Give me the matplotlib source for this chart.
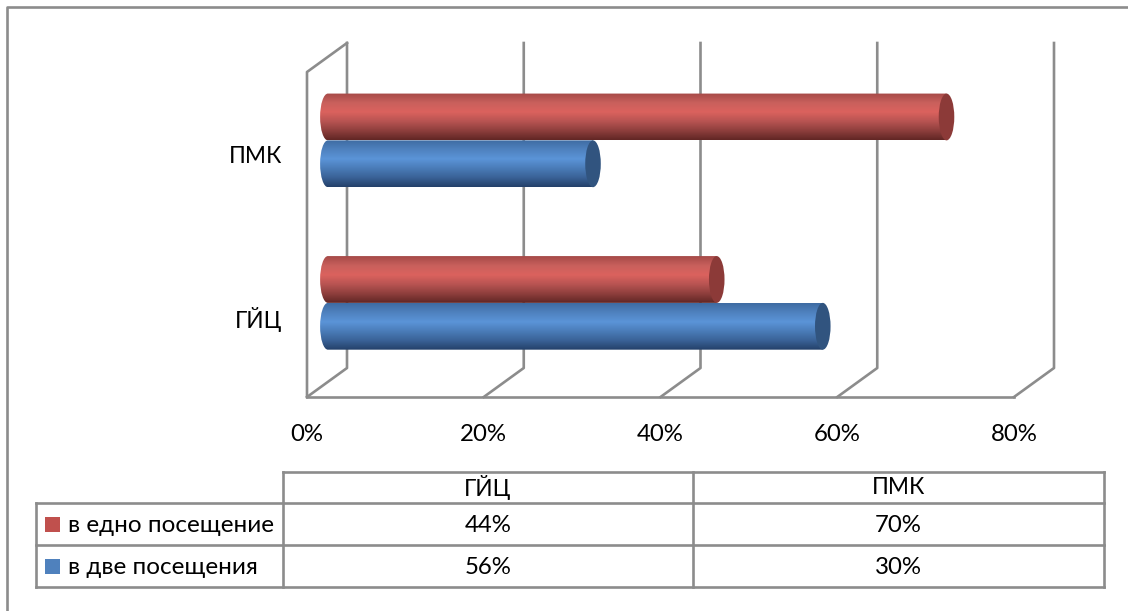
#!/usr/bin/python3

import numpy as np
from matplotlib import pyplot as plt
from matplotlib.patches import Ellipse, PathPatch, Rectangle
from matplotlib.path import Path

plt.rcParams['font.family'] = ['Lato', 'Open Sans', 'DejaVu Sans']

categories = ['ГЙЦ', 'ПМК']
series_names = ['в едно посещение', 'в две посещения']
one_visit = [44, 70]
two_visits = [56, 30]
x_ticks = [0, 20, 40, 60, 80]

W, H = 1128, 611
GRID = '#8c8c8c'
TEXT = '#000000'
LW = 1.9
FS = 17.3
RED_STOPS = ['#a64a48', '#c9605c', '#db625e', '#b85452', '#8f3f3d', '#622725']
BLUE_STOPS = ['#3f6ca3', '#4f82bf', '#5b94d8', '#4a7cb8', '#3a6297', '#24416a']
RED_END = '#8c3a38'
BLUE_END = '#31547f'
RED_KEY = '#c0504d'
BLUE_KEY = '#4f81bd'


def px_axes(fig, left, top, right, bottom):
    return fig.add_axes([left / W, 1 - bottom / H, (right - left) / W, (bottom - top) / H])


def hex_rgb(c):
    return [int(c[i:i + 2], 16) / 255 for i in (1, 3, 5)]


def draw_cylinder(ax, value, y_mid, stops, end_color, height, rx, shift_x, shift_y):
    x0 = 0 + shift_x
    x1 = value + shift_x
    yc = y_mid + shift_y
    y0, y1 = yc - height / 2, yc + height / 2
    # body outline with round left cap, the right end is covered by the ellipse
    k = 0.5523
    verts = [(x0, y0), (x1, y0), (x1, y1), (x0, y1),
             (x0 - k * rx, y1), (x0 - rx, yc + k * height / 2), (x0 - rx, yc),
             (x0 - rx, yc - k * height / 2), (x0 - k * rx, y0), (x0, y0)]
    codes = [Path.MOVETO, Path.LINETO, Path.LINETO, Path.LINETO,
             Path.CURVE4, Path.CURVE4, Path.CURVE4,
             Path.CURVE4, Path.CURVE4, Path.CURVE4]
    body = PathPatch(Path(verts, codes), fc='none', ec='none', zorder=3)
    ax.add_patch(body)
    rows = np.array([hex_rgb(c) for c in stops])
    pos = np.linspace(0, 1, len(stops))
    t = np.linspace(0, 1, 64)
    img = np.stack([np.interp(t, pos, rows[:, i]) for i in range(3)], axis=1)[:, None, :]
    im = ax.imshow(img, extent=(x0 - rx, x1, y0, y1), origin='upper', aspect='auto',
                   interpolation='bilinear', zorder=3)
    im.set_clip_path(body)
    ax.add_patch(Ellipse((x1, yc), 2 * rx, height, fc=end_color, ec='none', zorder=4))


def main():
    fig = plt.figure(figsize=(W / 100, H / 100), dpi=100, facecolor='white')

    # outer frame, only top and left are visible in the crop
    back = fig.add_axes([0, 0, 1, 1])
    back.set_xlim(0, W)
    back.set_ylim(H, 0)
    back.axis('off')
    back.plot([7, 7, W], [H, 7, 7], color=GRID, lw=LW, clip_on=False)

    # chart, the axes box is the front plane of the 3D room
    ax = px_axes(fig, 307, 72, 1014, 397)
    ax.set_xlim(0, 80)
    ax.set_ylim(0, 2)
    ax.axis('off')
    ax.set_zorder(2)
    dx = 40 / (707 / 80)
    dy = 29 / (325 / 2)

    for t in x_ticks:
        ax.plot([t, t + dx, t + dx], [0, dy, 2 + dy], color=GRID, lw=LW, clip_on=False, zorder=1)
        ax.text(t, -0.228, '%d%%' % t, ha='center', va='center', fontsize=FS, color=TEXT)
    ax.plot([0, 80], [0, 0], color=GRID, lw=LW, clip_on=False, zorder=1)
    ax.plot([0, 0, dx], [0, 2, 2 + dy], color=GRID, lw=LW, clip_on=False, zorder=1)

    height = 0.288
    rx = 0.88
    for i, cat in enumerate(categories):
        y = i + 0.49
        draw_cylinder(ax, two_visits[i], y - height / 2, BLUE_STOPS, BLUE_END, height, rx, dx / 2 + 0.1, dy / 2)
        draw_cylinder(ax, one_visit[i], y + height / 2, RED_STOPS, RED_END, height, rx, dx / 2 + 0.1, dy / 2)
        ax.text(-2.8, i + 0.48, cat, ha='right', va='center', fontsize=16.4, color=TEXT)
    ax.set_xlim(0, 80)
    ax.set_ylim(0, 2)

    # data table
    xs = [36, 283, 693, 1104]
    ys = [472, 503, 545, 587]
    back.plot([xs[1], xs[3]], [ys[0], ys[0]], color=GRID, lw=LW)
    back.plot([xs[0], xs[3]], [ys[1], ys[1]], color=GRID, lw=LW)
    back.plot([xs[0], xs[3]], [ys[2], ys[2]], color=GRID, lw=LW)
    back.plot([xs[0], xs[3]], [ys[3], ys[3]], color=GRID, lw=LW)
    back.plot([xs[0], xs[0]], [ys[1], ys[3]], color=GRID, lw=LW)
    for x in xs[1:]:
        back.plot([x, x], [ys[0], ys[3]], color=GRID, lw=LW)

    for c, cat in enumerate(categories):
        xc = (xs[c + 1] + xs[c + 2]) / 2
        back.text(xc, (ys[0] + ys[1]) / 2, cat, ha='center', va='center', fontsize=16.4, color=TEXT)
        back.text(xc, (ys[1] + ys[2]) / 2 + 1.5, '%d%%' % one_visit[c], ha='center', va='center', fontsize=FS, color=TEXT)
        back.text(xc, (ys[2] + ys[3]) / 2 + 1, '%d%%' % two_visits[c], ha='center', va='center', fontsize=FS, color=TEXT)

    for r, color in enumerate([RED_KEY, BLUE_KEY]):
        yc = (ys[r + 1] + ys[r + 2]) / 2
        back.add_patch(Rectangle((45, yc - 7.5), 15, 15, fc=color, ec='none'))
        back.text(68, yc + 1, series_names[r], ha='left', va='center', fontsize=FS + 0.2, color=TEXT)

    fig.savefig('out.png', dpi=100)


if __name__ == "__main__":
    main()
